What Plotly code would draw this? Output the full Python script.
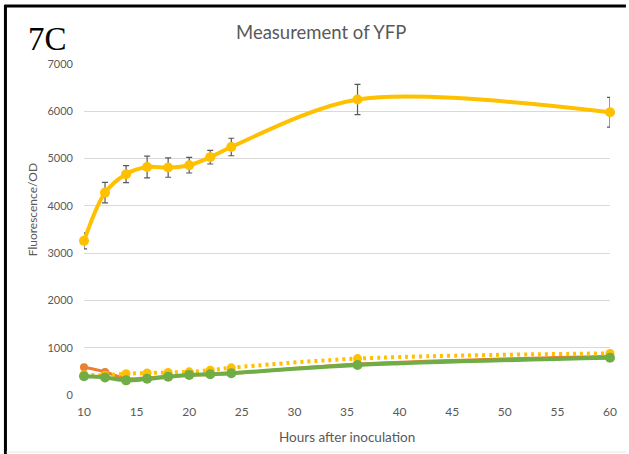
import plotly.graph_objects as go

# Hours after inoculation
hours = [10, 12, 14, 16, 18, 20, 22, 24, 36, 60]

# Fluorescence/OD per strain
yfp_main = [3260, 4280, 4670, 4820, 4810, 4860, 5030, 5245, 6250, 5980]
yfp_main_err = [170, 215, 180, 230, 205, 165, 145, 185, 320, 315]
orange_vals = [585, 487, 350, 365, 395, 420, 435, 455, 655, 820]
yellow_dot_vals = [430, 420, 450, 465, 475, 490, 525, 575, 770, 880]
green_vals = [395, 370, 310, 342, 388, 425, 440, 462, 634, 789]

y_ticks = [0, 1000, 2000, 3000, 4000, 5000, 6000, 7000]
x_ticks = [10, 15, 20, 25, 30, 35, 40, 45, 50, 55, 60]

W, H = 629, 454
L, R, T, B = 84, 16, 64, 59
PW, PH = W - L - R, H - T - B


def px(x):
    return (x - L) / PW


def py(y):
    return (H - B - y) / PH


GOLD = "#FFC000"
ORANGE = "#ED7D31"
GREEN = "#70AD47"
GREY = "#595959"
FONT = "Lato"

fig = go.Figure()

fig.add_trace(go.Scatter(
    x=hours, y=orange_vals, mode="lines+markers", cliponaxis=False,
    line=dict(color=ORANGE, width=3, shape="spline", smoothing=1),
    marker=dict(color=ORANGE, size=8), showlegend=False,
))
fig.add_trace(go.Scatter(
    x=hours, y=yellow_dot_vals, mode="lines+markers", cliponaxis=False,
    line=dict(color=GOLD, width=4, dash="3px,4px", shape="spline", smoothing=1),
    marker=dict(color=GOLD, size=9), showlegend=False,
))
fig.add_trace(go.Scatter(
    x=hours, y=green_vals, mode="lines+markers", cliponaxis=False,
    line=dict(color=GREEN, width=4, shape="spline", smoothing=1),
    marker=dict(color=GREEN, size=10), showlegend=False,
))
fig.add_trace(go.Scatter(
    x=hours, y=yfp_main, mode="lines+markers", cliponaxis=False,
    line=dict(color=GOLD, width=4, shape="spline", smoothing=0.9),
    marker=dict(color=GOLD, size=10),
    error_y=dict(type="data", array=yfp_main_err, visible=True,
                 color=GREY, thickness=1.2, width=3),
    showlegend=False,
))

fig.update_layout(
    width=W, height=H,
    margin=dict(l=L, r=R, t=T, b=B, pad=0),
    paper_bgcolor="white", plot_bgcolor="white",
    font=dict(family=FONT, color=GREY),
    xaxis=dict(
        range=[10, 60], tickvals=x_ticks, showgrid=False, zeroline=False,
        showline=False, ticks="", ticklabelstandoff=8,
        tickfont=dict(size=12, color=GREY),
    ),
    yaxis=dict(
        range=[0, 7000], tickvals=y_ticks, showgrid=True, gridcolor="#D9D9D9",
        gridwidth=1, zeroline=False, showline=False, ticks="",
        ticklabelstandoff=10, tickfont=dict(size=11, color=GREY),
    ),
    annotations=[
        dict(text="Measurement of YFP", x=px(322), y=py(32), xref="paper",
             yref="paper", showarrow=False, xanchor="center", yanchor="middle",
             font=dict(size=18.5, color=GREY, family=FONT)),
        dict(text="7C", x=px(26), y=py(39), xref="paper", yref="paper",
             showarrow=False, xanchor="left", yanchor="middle",
             font=dict(size=33, color="black", family="Liberation Serif")),
        dict(text="Fluorescence/OD", x=px(32), y=py(210), xref="paper",
             yref="paper", showarrow=False, textangle=-90, xanchor="center",
             yanchor="middle", font=dict(size=12, color=GREY, family=FONT)),
        dict(text="Hours after inoculation", x=px(348.5), y=py(437),
             xref="paper", yref="paper", showarrow=False, xanchor="center",
             yanchor="middle", font=dict(size=13.5, color=GREY, family=FONT)),
    ],
    shapes=[
        # frame: thick top and left edges, faint bottom edge
        dict(type="line", xref="paper", yref="paper", x0=px(4), x1=px(629),
             y0=py(6), y1=py(6), line=dict(color="black", width=3)),
        dict(type="line", xref="paper", yref="paper", x0=px(5), x1=px(5),
             y0=py(5), y1=py(454), line=dict(color="black", width=3)),
        dict(type="line", xref="paper", yref="paper", x0=px(6), x1=px(629),
             y0=py(452), y1=py(452), line=dict(color="#E6E6E6", width=1)),
    ],
)

fig.write_html("out.html")
